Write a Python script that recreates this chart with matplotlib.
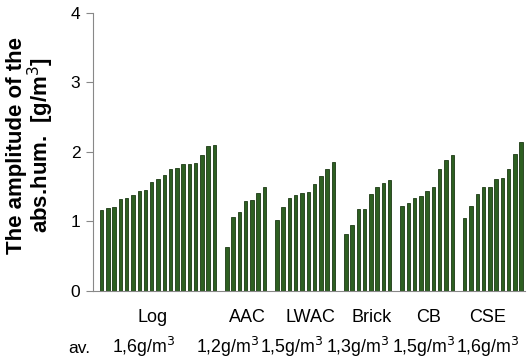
import matplotlib.pyplot as plt
import numpy as np

plt.rcParams['font.family'] = ['Liberation Sans', 'DejaVu Sans']

# amplitude of absolute humidity per sample, grouped by material
log_vals = [1.17, 1.19, 1.20, 1.32, 1.33, 1.38, 1.43, 1.45, 1.56, 1.61,
            1.67, 1.76, 1.77, 1.83, 1.83, 1.84, 1.95, 2.09, 2.10]
aac_vals = [0.63, 1.06, 1.14, 1.29, 1.30, 1.41, 1.49]
lwac_vals = [1.02, 1.21, 1.34, 1.38, 1.41, 1.42, 1.54, 1.65, 1.75, 1.86]
brick_vals = [0.82, 0.95, 1.18, 1.18, 1.40, 1.49, 1.55, 1.59]
cb_vals = [1.22, 1.26, 1.34, 1.37, 1.44, 1.49, 1.76, 1.88, 1.96]
cse_vals = [1.05, 1.22, 1.40, 1.49, 1.49, 1.61, 1.63, 1.76, 1.97, 2.14]

groups = ["Log", "AAC", "LWAC", "Brick", "CB", "CSE"]
averages = ["1,6g/m$^3$", "1,2g/m$^3$", "1,5g/m$^3$", "1,3g/m$^3$",
            "1,5g/m$^3$", "1,6g/m$^3$"]
series = [log_vals, aac_vals, lwac_vals, brick_vals, cb_vals, cse_vals]

fig = plt.figure(figsize=(5.31, 3.59), dpi=100)
ax = fig.add_axes([0.175, 0.19, 0.814, 0.774])

# one empty slot between groups
pos = 0
for vals in series:
    x = np.arange(pos, pos + len(vals))
    ax.bar(x, vals, width=0.55, color='#2d5f21', edgecolor='#1c3a14', linewidth=0.6)
    pos += len(vals) + 1

ax.set_xlim(-1.4, 67.65)
ax.set_ylim(0, 4)
ax.set_yticks([0, 1, 2, 3, 4])
ax.set_xticks([])
ax.tick_params(axis='y', labelsize=12.5, length=5, color='#888888', pad=4)
for s in ['top', 'right']:
    ax.spines[s].set_visible(False)
for s in ['left', 'bottom']:
    ax.spines[s].set_color('#888888')

fig.text(31 / 531, 1 - 145 / 359, "The amplitude of the\nabs.hum.  [g/m$^3$]",
         fontsize=16, fontweight='bold', rotation=90, ha='center', va='center',
         multialignment='center', linespacing=0.95)

# group names and averages below the axis (pixel positions)
label_x = [153, 247.5, 310, 372, 428.5, 488]
avg_x = [144, 227.5, 292, 357.5, 423.5, 487.5]
for name, xp in zip(groups, label_x):
    fig.text(xp / 531, 1 - 321.5 / 359, name, fontsize=13, ha='center', va='baseline')
for av, xp in zip(averages, avg_x):
    fig.text(xp / 531, 1 - 353 / 359, av, fontsize=12.8, ha='center', va='baseline')
fig.text(79 / 531, 1 - 353 / 359, "av.", fontsize=12.5, ha='center', va='baseline')

fig.savefig('out.png', dpi=100)
